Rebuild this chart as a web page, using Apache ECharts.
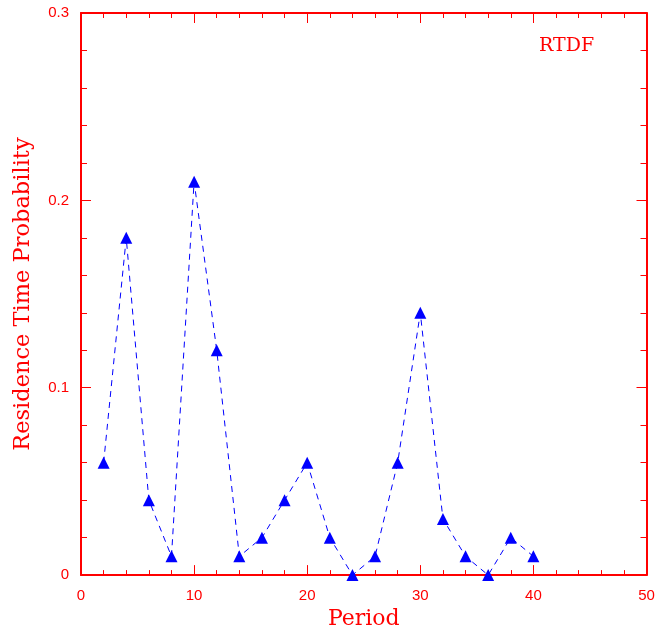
<!DOCTYPE html>
<html><head><meta charset="utf-8">
<script src="https://cdn.jsdelivr.net/npm/echarts@6/dist/echarts.min.js"></script>
<style>html,body{margin:0;padding:0;background:#fff}#c{width:666px;height:635px}</style>
</head><body><div id="c"></div>
<script>
const periods = [2,4,6,8,10,12,14,16,18,20,22,24,26,28,30,32,34,36,38,40];
const probs = [0.06,0.18,0.04,0.01,0.21,0.12,0.01,0.02,0.04,0.06,0.02,0.0,0.01,0.06,0.14,0.03,0.01,0.0,0.02,0.01];
const xTicks = [0,10,20,30,40,50];
const yTicks = [0,0.1,0.2,0.3];
const RED = '#ff0000';
const chart = echarts.init(document.getElementById('c'));
const axisCommon = {
  axisLine:{show:true,onZero:false,lineStyle:{color:RED,width:2}},
  axisTick:{show:true,inside:true,length:10,lineStyle:{color:RED,width:1}},
  minorTick:{show:true,length:5,lineStyle:{color:RED,width:1}},
  splitLine:{show:false},
  axisLabel:{color:RED,fontFamily:'Liberation Sans',fontSize:15}
};
chart.setOption({
  animation:false,
  backgroundColor:'#fff',
  grid:{left:81,right:19.5,top:13,bottom:56,containLabel:false},
  title:{text:'RTDF',left:534,top:32,textStyle:{color:RED,fontFamily:'DejaVu Serif',fontWeight:'normal',fontSize:19}},
  xAxis:[
    Object.assign({},axisCommon,{type:'value',min:0,max:50,interval:10,position:'bottom',
      minorTick:Object.assign({},axisCommon.minorTick,{splitNumber:5}),
      name:'Period',nameLocation:'middle',nameGap:32,
      nameTextStyle:{color:RED,fontFamily:'DejaVu Serif',fontSize:22},
      axisLabel:Object.assign({},axisCommon.axisLabel,{margin:13,formatter:v=>xTicks.includes(v)?String(v):''})}),
    Object.assign({},axisCommon,{type:'value',min:0,max:50,interval:10,position:'top',
      minorTick:Object.assign({},axisCommon.minorTick,{splitNumber:5}),
      axisLabel:{show:false}})
  ],
  yAxis:[
    Object.assign({},axisCommon,{type:'value',min:0,max:0.3,interval:0.1,position:'left',
      minorTick:Object.assign({},axisCommon.minorTick,{splitNumber:5,length:6}),
      name:'Residence Time Probability',nameLocation:'middle',nameGap:46,
      nameTextStyle:{color:RED,fontFamily:'DejaVu Serif',fontSize:22.5},
      axisLabel:Object.assign({},axisCommon.axisLabel,{margin:12,formatter:v=>{const r=Math.round(v*10)/10;return yTicks.includes(r)?(r===0?'0':String(r)):'';}})}),
    Object.assign({},axisCommon,{type:'value',min:0,max:0.3,interval:0.1,position:'right',
      minorTick:Object.assign({},axisCommon.minorTick,{splitNumber:5,length:6}),
      axisLabel:{show:false}})
  ],
  series:[{
    type:'line',
    data:periods.map((p,i)=>[p,probs[i]]),
    symbol:'triangle',symbolSize:12,
    itemStyle:{color:'#0000ff'},
    lineStyle:{color:'#0000ff',width:1,type:[6,5]},
    clip:false
  }]
});
</script></body></html>
